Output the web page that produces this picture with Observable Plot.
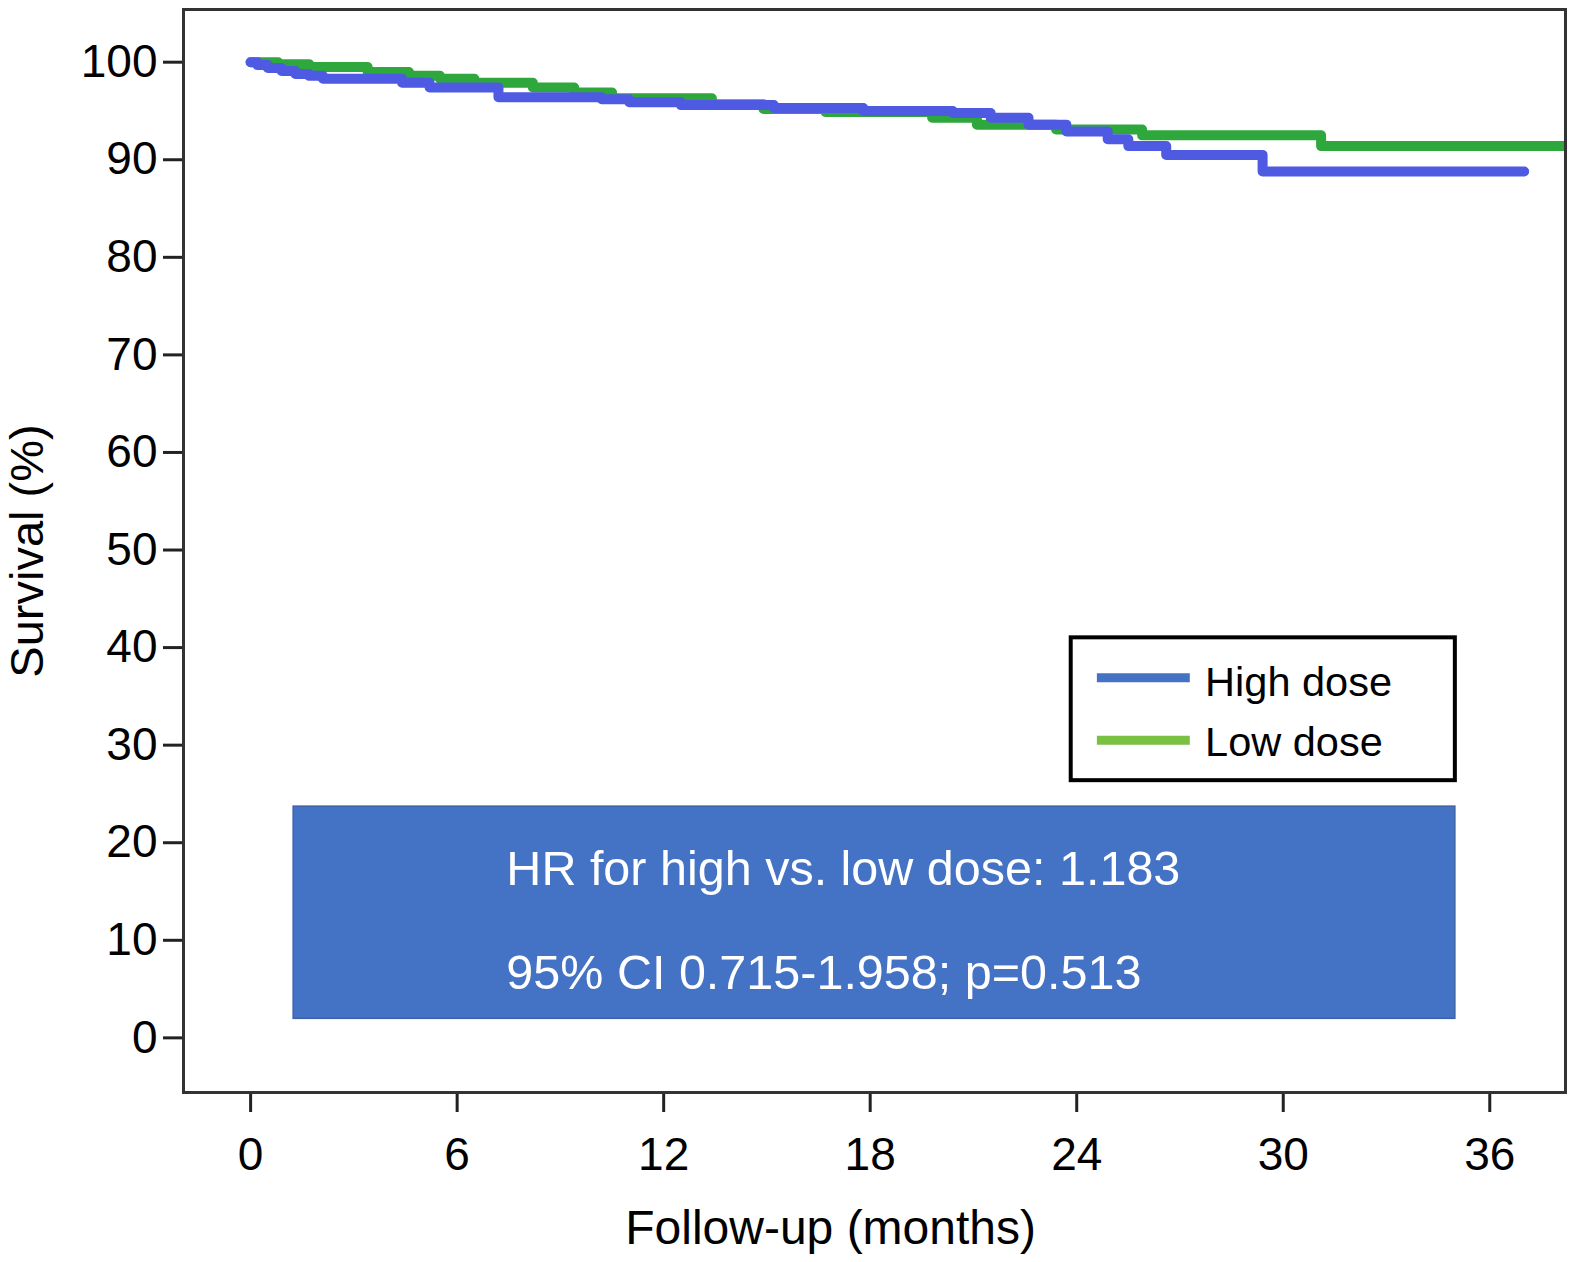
<!DOCTYPE html>
<html>
<head>
<meta charset="utf-8">
<script src="https://cdn.jsdelivr.net/npm/d3@7"></script>
<script src="https://cdn.jsdelivr.net/npm/@observablehq/plot@0.6"></script>
<style>
  html, body { margin: 0; background: #fff; overflow: hidden; }
  #chart svg { display: block; max-width: none !important; }
</style>
</head>
<body>
<div id="chart"></div>
<script>
// curvas de supervivencia (step-after)
const highTime = [0, 0.2, 0.5, 0.9, 1.3, 1.7, 2.1, 4.4, 5.2, 7.2, 10.2, 11.0, 12.5, 15.2, 17.8, 20.4, 21.5, 22.6, 23.7, 24.9, 25.5, 26.6, 29.4, 37.0]
const highSurv = [100, 99.7, 99.4, 99.1, 98.8, 98.6, 98.3, 97.9, 97.4, 96.4, 96.2, 95.9, 95.6, 95.3, 95.0, 94.8, 94.3, 93.6, 92.9, 92.1, 91.4, 90.5, 88.8, 88.8]
const lowTime = [0, 0.8, 1.7, 3.4, 4.6, 5.5, 6.5, 8.2, 9.4, 10.5, 13.4, 14.9, 16.7, 19.8, 21.1, 23.4, 25.9, 31.1, 38.2]
const lowSurv = [100, 99.8, 99.5, 99.0, 98.6, 98.3, 97.9, 97.4, 96.9, 96.3, 95.7, 95.2, 94.9, 94.3, 93.6, 93.1, 92.5, 91.4, 91.4]

const groups = ["High dose", "Low dose"]
const lineColors = ["#4e5ae2", "#2ea83c"]
const legendColors = ["#4472c4", "#7ac143"]
const xTicks = [0, 6, 12, 18, 24, 30, 36]
const yTicks = [0, 10, 20, 30, 40, 50, 60, 70, 80, 90, 100]
const hrLines = ["HR for high vs. low dose: 1.183", "95% CI 0.715-1.958; p=0.513"]

const high = highTime.map((t, i) => ({t, s: highSurv[i]}))
const low = lowTime.map((t, i) => ({t, s: lowSurv[i]}))

const font = "'Liberation Sans', Arial, Helvetica, sans-serif"

let chart = Plot.plot({
  width: 1575,
  height: 1262,
  marginLeft: 183,
  marginRight: 10,
  marginTop: 9,
  marginBottom: 170,
  style: {fontFamily: font, background: "#fff", color: "#000"},
  x: {domain: [-1.95, 38.2]},
  y: {domain: [-5.6, 105.4]},
  marks: [
    Plot.axisX(xTicks, {tickSize: 20, strokeWidth: 3, stroke: "#222", tickPadding: 25, fontSize: 46, label: null}),
    Plot.axisY(yTicks, {tickSize: 20, strokeWidth: 3, stroke: "#222", tickPadding: 6, fontSize: 46, label: null}),
    Plot.text(["Follow-up (months)"], {x: 16.85, frameAnchor: "bottom", lineAnchor: "middle", dy: 136, fontSize: 48, fill: "#000"}),
    Plot.text(["Survival (%)"], {frameAnchor: "left", textAnchor: "middle", lineAnchor: "middle", rotate: -90, dx: -156, fontSize: 47, fill: "#000"}),

    // caja HR
    Plot.rect([0], {x1: 1.25, x2: 35.0, y1: 1.95, y2: 23.7, fill: "#4472c4", stroke: "#3b62a8", strokeWidth: 1.5}),
    Plot.text(hrLines, {x: 7.43, y: (d, i) => [17.3, 6.6][i], textAnchor: "start", fill: "#fff", fontSize: 48.5}),

    // leyenda
    Plot.rect([0], {x1: 23.84, x2: 35.0, y1: 26.36, y2: 41.0, fill: "#fff", stroke: "#000", strokeWidth: 4}),
    Plot.ruleY(groups, {y: (d, i) => [36.9, 30.5][i], x1: 24.6, x2: 27.3, stroke: (d, i) => legendColors[i], strokeWidth: 9}),
    Plot.text(groups, {x: 27.73, y: (d, i) => [36.4, 30.3][i], textAnchor: "start", fontSize: 41.5, fill: "#000"}),

    Plot.line(low, {x: "t", y: "s", curve: "step-after", stroke: lineColors[1], strokeWidth: 10, clip: true}),
    Plot.line(high, {x: "t", y: "s", curve: "step-after", stroke: lineColors[0], strokeWidth: 10, strokeLinecap: "round", strokeLinejoin: "round"}),
    Plot.frame({stroke: "#333", strokeWidth: 3})
  ]
})

d3.select('#chart').append(() => chart)
</script>
</body>
</html>
